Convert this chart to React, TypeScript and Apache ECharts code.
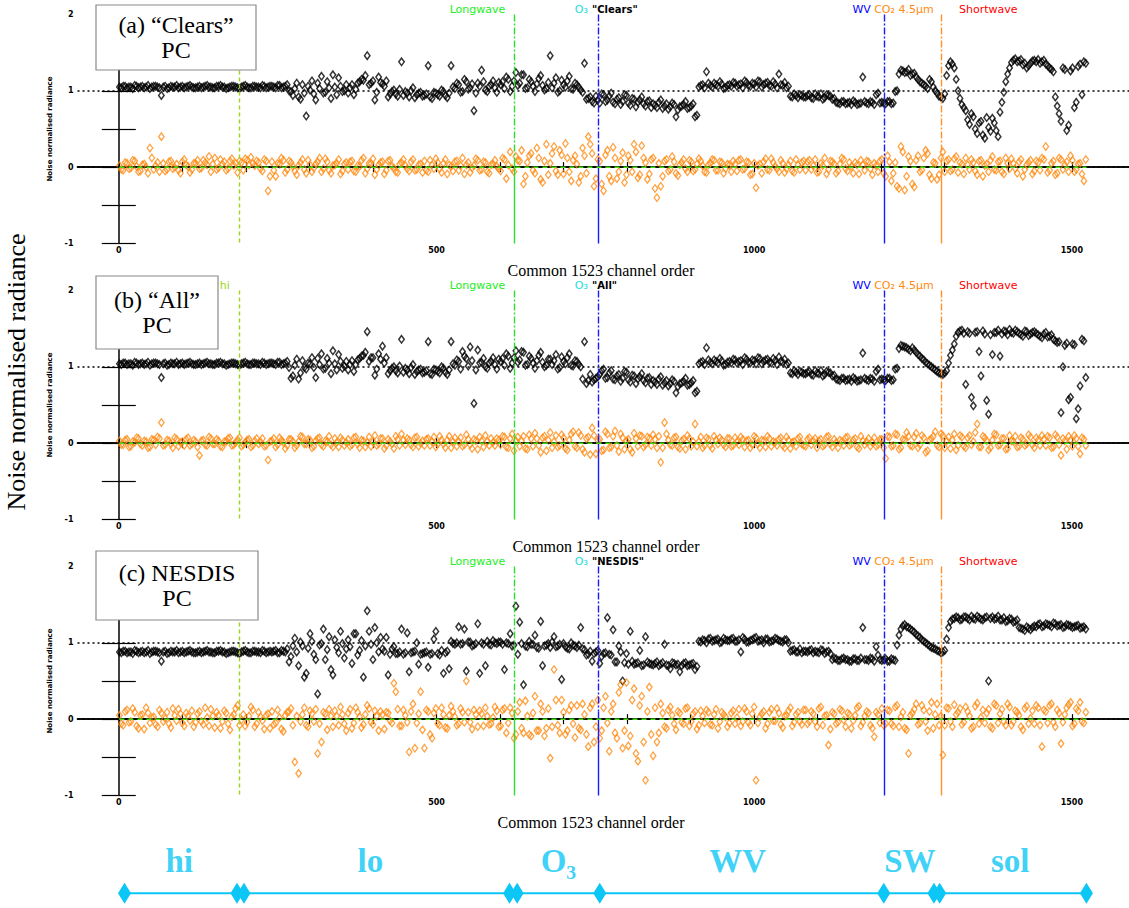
import React, { useEffect, useRef } from 'react';
import * as echarts from 'echarts';

// Page size
const W = 1129;
const H = 908;

// Values are sampled every CHANNEL_STEP channels, in two interleaved sets that
// start at channel 1 and channel 4 respectively.
const CHANNEL_STEP = 6;
const FIRST_CHANNEL = 1;
const LAST_CHANNEL = 1523;

// Noise normalised radiance (hundredths): PC reconstruction (black) and residual (orange)
// ---- (a) "Clears" ----
const clearsPC1 = [
  105,106,104,105,107,104,106,105,103,106,105,94,106,104,105,107,105,104,106,105,
  104,106,105,107,105,104,106,105,103,105,106,104,105,107,104,106,105,104,106,105,
  106,104,107,105,108,99,103,92,108,67,101,96,110,119,98,104,121,95,106,100,
  97,108,102,112,114,146,110,88,118,109,113,96,101,93,138,99,92,104,95,98,
  94,133,90,97,93,99,91,133,103,108,99,112,104,74,110,127,101,106,113,98,
  108,103,115,106,124,110,121,104,112,99,116,107,103,146,110,98,114,105,119,102,
  108,101,136,90,86,93,84,95,88,97,83,91,86,94,81,89,85,92,80,87,
  83,78,88,80,76,84,66,79,82,77,80,66,105,108,125,107,110,106,109,104,
  108,111,106,109,113,107,110,105,112,108,111,106,109,122,107,104,93,96,91,94,
  92,95,90,93,96,91,94,89,85,83,86,84,82,85,83,118,84,86,82,97,
  85,83,86,84,100,127,124,128,122,118,112,108,103,112,100,93,90,120,138,130,
  100,82,74,56,66,44,60,38,52,64,48,72,98,122,137,142,139,134,130,136,
  140,141,138,135,130,125,80,60,128,55,130,85,135,138,
];
const clearsPC4 = [
  104,106,105,103,106,105,104,107,105,106,104,105,103,106,105,104,106,105,107,104,
  105,104,106,105,104,106,107,105,104,106,105,103,106,105,104,106,105,107,104,106,
  105,107,104,106,100,94,110,89,97,106,113,88,103,97,112,90,105,117,99,108,
  104,95,110,115,120,108,113,98,111,106,92,99,96,102,94,97,100,91,97,93,
  96,92,98,95,101,94,97,105,110,98,115,102,109,97,106,112,99,108,104,111,
  112,118,99,113,107,121,103,115,106,109,120,101,111,104,117,100,108,113,103,110,
  105,98,89,92,84,88,96,86,93,85,89,82,95,84,90,79,88,83,86,78,
  81,85,77,83,79,82,75,80,86,78,83,68,107,104,110,105,108,112,103,107,
  106,110,108,104,111,106,109,113,105,110,107,112,104,108,111,106,92,94,95,92,
  94,91,96,92,89,95,93,90,84,86,83,85,87,82,84,86,83,85,95,84,
  84,86,83,99,122,126,125,120,123,115,110,106,115,105,97,92,96,133,135,115,
  90,78,62,70,50,58,42,65,47,58,40,85,112,130,140,138,141,136,133,139,
  138,136,140,133,128,92,70,130,48,126,78,132,95,136,
];
const clearsResid1 = [
  2,-4,5,-1,8,-6,3,0,25,-3,6,40,-5,7,-2,4,-8,10,1,-3,
  5,-2,9,3,-6,12,-1,4,-4,8,2,-7,6,11,3,5,8,-2,10,-31,
  7,-12,4,9,-3,6,-5,2,10,-8,3,-1,7,-6,11,-4,2,5,-9,4,
  -3,8,-6,1,12,-2,5,-10,3,7,-4,9,-1,-7,6,2,-5,10,-3,4,
  8,-6,3,11,-2,5,-9,1,7,-4,12,3,-7,2,9,-3,6,-8,4,1,
  -5,10,3,-2,14,8,-22,6,18,-8,12,-20,30,5,27,-10,16,31,-6,9,
  4,-12,15,40,18,-15,8,-31,22,-18,12,-6,19,-10,9,30,-14,28,6,-9,
  12,-40,-25,8,-5,14,-8,3,10,-6,7,-3,11,2,-7,5,9,-4,6,-2,
  3,8,-5,10,-2,6,-9,-27,4,7,-3,11,1,-6,5,-2,8,-7,3,6,
  -4,9,2,-7,5,12,-3,7,-8,4,10,-5,1,6,-9,3,8,-2,5,-6,
  10,-12,7,-8,-25,27,-30,14,-22,9,-6,12,18,-15,5,-10,20,8,-5,11,
  -7,4,12,-3,6,-10,9,2,-6,14,-4,8,-9,5,11,-2,7,-12,3,9,
  -5,6,12,27,-4,8,-8,10,3,-6,9,-3,5,-18,
];
const clearsResid4 = [
  -3,6,-2,9,1,-5,4,-8,12,2,-6,5,-3,8,0,-4,7,3,-7,5,
  9,-1,6,14,4,-3,10,7,-2,11,5,8,-4,9,13,2,6,-5,8,-12,
  -4,5,12,-7,8,1,-10,6,-3,9,-6,4,12,-2,7,-8,3,10,-5,6,
  7,-5,2,9,-8,5,11,-3,6,-9,8,1,-6,4,10,-2,7,-4,3,-7,
  -4,9,-2,6,-7,10,3,-5,8,2,-9,6,-1,11,-4,7,-6,3,9,-2,
  12,-15,20,-6,9,22,-12,15,-4,25,-16,8,-10,18,-5,22,-9,12,-18,15,
  -20,25,-8,30,-25,10,-22,16,-12,26,-15,8,-20,15,-6,20,-10,12,-16,10,
  -28,5,-12,10,-3,7,-11,6,-2,9,-5,4,8,-6,3,10,-4,7,-8,4,
  -6,4,9,-3,7,-10,5,2,-8,11,-4,6,-2,9,-7,3,-5,10,-3,8,
  7,-3,10,-6,2,-9,8,4,-5,12,-2,6,-8,3,9,-4,7,-10,2,8,
  -8,15,-18,6,-28,20,-12,8,-26,15,-4,22,-10,6,-16,12,-6,10,-3,14,
  6,-9,3,10,-5,8,-12,4,9,-3,7,-6,12,-2,5,-8,10,-3,6,-9,
  8,-4,10,-7,5,-10,12,-3,7,15,-6,4,-9,10,
];

// ---- (b) "All" ----
const allPC1 = [
  104,105,103,104,106,103,105,104,102,105,104,86,105,103,104,106,104,103,105,104,
  103,105,104,106,104,103,105,104,102,104,105,103,104,106,103,105,104,103,105,104,
  105,103,106,104,107,85,102,84,108,97,104,99,111,117,98,105,121,96,107,101,
  96,108,103,111,115,146,112,89,117,127,112,95,100,92,136,98,91,103,94,97,
  93,133,90,96,92,98,90,133,102,107,120,111,126,52,122,106,100,105,112,97,
  107,102,114,105,121,109,119,103,111,98,115,106,102,110,108,97,113,104,117,101,
  107,100,133,82,80,85,90,97,86,95,83,90,85,93,80,88,84,91,79,86,
  82,77,87,79,75,83,66,78,81,76,79,66,104,107,125,106,109,105,108,103,
  107,110,105,108,112,106,109,104,111,107,110,105,108,113,106,103,92,95,90,93,
  91,94,89,92,95,90,93,88,84,82,85,83,81,84,82,118,83,85,81,97,
  84,82,85,83,98,128,126,123,125,119,114,109,104,100,96,92,90,95,115,130,
  145,148,77,144,49,146,88,143,38,116,145,114,147,142,145,148,144,140,146,143,
  146,142,138,145,140,136,132,40,128,57,130,32,75,134,
];
const allPC4 = [
  103,105,104,102,105,104,103,106,104,105,103,104,102,105,104,103,105,104,106,103,
  104,103,105,104,103,105,106,104,103,105,104,102,105,104,103,105,104,106,103,105,
  104,106,103,105,99,88,110,92,99,105,112,86,103,97,111,91,104,116,98,107,
  103,94,109,114,119,107,112,97,110,105,91,98,95,101,93,96,99,90,96,92,
  95,91,97,94,100,93,96,104,109,97,114,101,108,96,105,111,98,107,103,110,
  111,117,98,112,106,120,102,114,105,108,119,100,110,103,116,99,107,112,102,108,
  103,84,78,90,83,87,95,85,92,84,88,81,94,83,89,78,87,82,85,77,
  80,84,76,82,78,81,74,79,85,77,82,68,106,103,109,104,107,111,102,106,
  105,109,107,103,110,105,108,112,104,109,106,111,103,107,110,105,91,93,94,91,
  93,90,95,91,88,94,92,89,83,85,82,84,86,81,83,85,82,84,94,83,
  83,85,82,97,124,127,125,121,122,116,111,106,102,98,94,91,92,105,122,140,
  147,144,146,60,145,120,147,56,142,145,148,143,146,149,144,146,142,147,141,145,
  144,140,143,139,142,134,133,100,131,60,129,45,136,86,
];
const allResid1 = [
  3,-2,5,-4,1,6,-3,2,-5,4,8,27,-2,3,-6,5,1,-3,7,-1,
  2,-16,4,-3,6,-1,3,-5,2,7,-2,4,-4,1,5,-3,6,2,-4,-22,
  3,-5,7,1,-3,5,-6,2,8,-1,4,-4,6,-2,3,9,-5,1,7,-3,
  5,-2,8,-6,3,1,-4,10,-1,6,-3,2,-7,5,12,-2,4,-5,8,0,
  -3,6,2,-5,9,-1,4,-6,7,2,-4,11,-2,5,-8,3,10,-3,1,6,
  -2,8,-6,12,3,-4,9,-8,6,13,-3,7,-10,14,2,-5,11,-7,4,15,
  -6,10,-12,8,20,-14,5,-9,12,-5,16,-11,7,3,-8,13,-4,9,-2,6,
  11,-6,-25,27,4,-3,8,-7,5,10,-4,25,2,-6,7,-3,9,-1,4,-5,
  6,-3,2,8,-5,4,-2,7,-6,3,9,-4,1,5,-3,8,-7,2,6,-1,
  -4,7,3,-6,5,-2,9,-5,1,4,-3,8,-1,6,-7,3,2,-4,7,-2,
  5,-20,8,-3,11,-6,4,9,-4,13,-2,7,-10,6,15,-5,10,3,-7,12,
  -3,8,-6,10,2,25,-5,7,-9,4,11,-2,6,-7,3,9,-4,5,-1,8,
  -6,4,10,-3,7,-5,8,-16,3,9,-4,6,-14,5,
];
const allResid4 = [
  -2,4,-5,2,7,-1,3,-6,5,-2,6,-3,4,-1,7,-4,2,5,-3,4,
  -5,3,-2,8,-1,5,-4,2,6,-3,1,7,-2,4,-5,3,-1,6,-3,2,
  6,-2,4,-7,5,2,-3,9,-1,5,-6,3,7,-4,2,-2,6,-5,4,1,
  -4,7,-1,4,-5,8,2,-3,6,-7,5,-1,9,-3,4,6,-2,7,-4,3,
  5,-3,8,-1,4,-6,9,2,-4,7,-2,5,-7,3,8,-5,2,6,-3,4,
  9,-5,6,-10,8,3,-7,11,-4,6,-12,9,4,-6,10,-3,7,-9,12,-4,
  14,-8,6,-15,10,4,-10,15,-6,9,-3,12,-8,5,-12,6,10,-5,8,-3,
  5,9,-6,12,-2,7,-5,3,-8,6,2,-4,8,-3,5,-7,4,7,-2,6,
  -4,7,-2,5,3,-6,9,-1,4,-5,6,2,-3,7,-6,4,1,-4,8,-3,
  5,-2,6,3,-4,8,-1,5,-6,2,7,-3,4,-5,9,-2,6,1,-4,5,
  -6,9,-4,12,-8,5,14,-3,8,-6,10,-12,4,9,-3,12,-6,8,4,-9,
  10,-4,7,-2,14,-5,9,3,-6,12,-3,6,-8,10,2,-5,7,-3,11,-2,
  7,-3,5,9,-6,11,-2,6,-8,4,10,-4,7,-3,
];

// ---- (c) NESDIS ----
const nesdisPC1 = [
  88,89,87,88,90,87,89,88,86,89,88,76,89,87,88,90,88,87,89,88,
  87,89,88,90,88,87,89,88,86,88,89,87,88,90,87,89,88,87,89,88,
  88,90,87,89,92,82,106,70,96,60,112,85,33,99,78,108,58,94,115,80,
  104,73,112,90,55,142,98,120,88,92,107,85,95,86,118,87,62,88,100,85,
  87,68,86,115,84,60,89,102,98,121,99,63,101,97,125,100,70,98,103,99,
  101,65,99,96,148,127,45,95,98,110,93,70,97,94,108,96,52,95,92,97,
  94,120,91,85,76,88,73,86,133,84,75,96,50,86,115,72,74,70,108,73,
  71,75,72,98,70,74,71,62,73,70,72,65,102,104,100,106,103,105,101,104,
  103,106,102,88,105,101,104,107,103,100,105,102,106,103,101,104,89,91,88,87,
  89,90,87,88,91,86,89,78,79,77,80,78,76,79,77,120,78,80,76,84,
  77,79,76,78,97,118,124,120,116,111,107,102,98,94,92,89,88,105,128,132,
  133,131,134,130,132,135,131,133,50,134,132,130,133,129,131,128,120,118,121,117,
  122,124,121,125,123,126,122,124,121,123,120,122,119,121,
];
const nesdisPC4 = [
  87,89,88,86,89,88,87,90,88,89,87,88,86,89,88,87,89,88,90,87,
  88,87,89,88,87,89,90,88,87,89,88,86,89,88,87,89,88,90,87,89,
  89,87,90,88,75,96,88,101,55,93,102,78,97,118,91,65,104,87,99,92,
  95,112,84,103,96,115,78,100,107,89,58,92,86,88,85,113,87,89,72,86,
  88,85,105,86,90,87,66,99,100,98,118,101,96,99,60,98,102,97,100,101,
  98,100,112,97,85,99,96,102,98,94,128,96,99,101,95,98,99,93,100,96,
  97,92,84,89,86,90,82,87,85,117,75,88,74,72,76,73,90,71,75,72,
  73,70,74,71,66,73,72,70,74,71,73,69,101,103,105,102,104,100,106,103,
  105,102,104,107,101,103,106,102,104,105,101,103,105,102,104,100,90,88,92,89,
  88,91,89,87,90,88,86,80,77,79,78,76,79,77,80,78,77,79,95,78,
  78,76,79,77,110,122,121,118,114,109,104,100,96,93,90,87,90,120,131,134,
  130,134,132,135,131,133,130,134,132,131,135,130,128,132,127,130,119,116,119,120,
  121,125,122,124,121,125,123,120,124,122,121,123,120,118,
];
const nesdisResid1 = [
  5,-8,12,-3,9,-12,6,15,-5,3,-10,8,1,-6,14,-2,7,-9,4,11,
  -4,10,-7,2,13,-11,5,-3,8,-14,6,18,-1,-9,4,12,-6,3,-13,7,
  10,-5,2,-16,9,14,-56,-71,6,-8,11,-3,-45,-30,7,13,-10,4,16,-6,
  8,-12,15,3,-7,18,-4,11,-15,6,9,-2,47,13,-9,5,-43,20,-5,36,
  -38,10,-25,14,-8,6,-12,17,3,-6,9,50,-4,12,-10,7,15,-7,2,11,
  -9,14,-5,8,-20,22,-18,4,-22,30,-15,10,-12,-51,65,-8,25,-20,12,-6,
  18,-14,6,-36,20,-10,-25,15,-5,10,-18,35,-38,48,-22,40,-55,30,-80,42,
  -48,-30,20,-10,12,5,-14,8,-6,15,-3,10,-8,4,12,-7,6,-12,9,3,
  -5,11,2,-9,14,-4,7,-80,3,10,-6,13,-2,8,-11,5,15,-4,9,-7,
  12,-3,7,-10,16,4,-34,9,-6,13,-1,8,-12,5,17,-4,10,-8,-23,6,
  14,-6,11,-9,18,3,-12,-45,8,20,-5,12,-15,22,6,-8,-47,15,-3,19,
  9,-7,16,4,-10,21,2,-5,13,-12,18,7,-3,20,-8,11,5,-14,17,1,
  -6,15,-36,10,18,-4,12,-32,6,19,-9,14,22,-5,
];
const nesdisResid4 = [
  -6,10,-4,14,-9,5,-13,8,2,-7,12,-3,9,-11,5,13,-5,8,-2,-10,
  7,-3,15,-9,4,9,-12,11,-6,3,14,-8,6,-4,16,-10,9,-2,5,-12,
  -7,12,-13,5,10,-8,4,-3,15,-10,7,13,-6,9,-14,4,11,-8,6,-15,
  13,-5,9,-11,6,14,-7,4,10,-13,8,-5,36,-9,12,-4,10,-38,7,-14,
  12,-20,8,-6,15,-11,5,10,-8,14,-4,9,-13,6,11,-9,4,-6,16,-10,
  12,-18,15,-25,10,-12,24,-20,8,-15,20,-22,14,-10,25,-18,9,-15,18,-24,
  -12,20,-20,15,-30,25,-15,30,-42,20,-25,45,-15,-35,25,-45,18,-30,10,-20,
  15,-18,8,-12,16,-6,10,-4,14,-9,7,-13,11,-5,9,-8,13,-3,6,-10,
  8,-6,13,-3,10,-8,16,-5,7,-12,9,-2,14,-7,4,11,-9,6,-3,12,
  -6,10,-3,14,-8,5,-13,7,-4,11,-10,6,-2,15,-9,4,8,-12,9,-5,
  -8,12,-6,16,-10,9,-14,5,13,-7,18,-3,10,-12,20,4,-8,14,-10,6,
  14,-4,10,-12,17,-6,12,8,-10,20,-5,13,-8,16,-3,9,-10,14,-6,11,
  18,-8,12,-5,20,-10,8,-4,15,22,-6,11,-3,9,
];

// Axis ticks
const xMajorTicks = [0, 500, 1000, 1500];
const xMinorTicks = [0, 100, 200, 300, 400, 500, 600, 700, 800, 900, 1000, 1100, 1200, 1300, 1400, 1500];

// Spectral region dividers (channel numbers)
const dividerChannels = [190, 623, 755, 1204, 1294];

// Band bar below the panels
const bandEdges = [9, 186, 197, 615, 627, 757, 1204, 1283, 1292, 1523];
const bandNames = ['hi', 'lo', 'O₃', 'WV', 'SW', 'sol'];
const bandCentres = [95, 396, 692, 974, 1245, 1403];

// Panel annotations
const panelTags = ['(a) “Clears”\nPC', '(b) “All”\nPC', '(c) NESDIS\nPC'];
const panelKeys = ['"Clears"', '"All"', '"NESDIS"'];
const regionLabels = ['Longwave', 'O₃', 'WV', 'CO₂ 4.5μm', 'Shortwave'];
const regionLabelChannels = [518, 714, 1149, 1183, 1316];
const keyLabelChannel = 741;
const hiLabelChannel = 158;

// Layout
const X_MIN = -65;
const X_MAX = 1590;
const GRID_LEFT = 77.5;
const GRID_RIGHT = -5;
const PLOT_W = W - GRID_LEFT - GRID_RIGHT;
const PANEL_TOPS = [14.5, 290.5, 566.5];
const PANEL_H = 229;
const chX = (ch: number) => GRID_LEFT + ((ch - X_MIN) * PLOT_W) / (X_MAX - X_MIN);

const ORANGE = '#ff8a10';
const ZERO_GREEN = '#44dd11';
const CYAN = '#0cc6f5';
const HI_GREEN = '#9bd320';
const DIVIDER_COLORS = [HI_GREEN, '#2ee02e', '#1a1aff', '#1a1aff', '#ff9326'];
const REGION_COLORS = ['#22ee22', '#22dddd', '#0000ff', '#ff8a10', '#ff0000'];

// Merge the two interleaved sample sets into [channel, value] pairs
const toPoints = (set1: number[], set4: number[]) => [
  ...set1.map((v, i) => [FIRST_CHANNEL + i * CHANNEL_STEP, v / 100]),
  ...set4.map((v, i) => [FIRST_CHANNEL + 3 + i * CHANNEL_STEP, v / 100]),
];

const panelData = [
  { pc: toPoints(clearsPC1, clearsPC4), resid: toPoints(clearsResid1, clearsResid4) },
  { pc: toPoints(allPC1, allPC4), resid: toPoints(allResid1, allResid4) },
  { pc: toPoints(nesdisPC1, nesdisPC4), resid: toPoints(nesdisResid1, nesdisResid4) },
];

const boxes = [
  { x: 96, y: 5, w: 160, h: 65 },
  { x: 96, y: 276, w: 122, h: 73 },
  { x: 96, y: 551, w: 162, h: 69 },
];
const titleCentres = [601, 606, 591];

function dividerLines() {
  const lines: any[] = [];
  dividerChannels.forEach((ch, k) => {
    const color = DIVIDER_COLORS[k];
    if (k === 0) {
      lines.push([
        { coord: [ch, 2], lineStyle: { color, type: [4, 3], width: 1.4 } },
        { coord: [ch, -1] },
      ]);
    } else {
      lines.push([
        { coord: [ch, 2], lineStyle: { color, type: [7, 2, 2, 2], width: 1.4 } },
        { coord: [ch, 0.1] },
      ]);
      lines.push([
        { coord: [ch, 0.1], lineStyle: { color, type: 'solid', width: 1.4 } },
        { coord: [ch, -1] },
      ]);
    }
  });
  return lines;
}

const smallText = (text: string, x: number, y: number, fill: string, font: string) => ({
  type: 'text', x, y, z: 10,
  style: {
    text, fill, font,
    align: 'left', verticalAlign: 'middle', textAlign: 'left', textVerticalAlign: 'middle',
  },
});

function buildOption() {
  const grid: any[] = [];
  const xAxis: any[] = [];
  const yAxis: any[] = [];
  const series: any[] = [];
  const graphic: any[] = [];

  const axisLine = { show: true, lineStyle: { color: '#000', width: 1.5 } };
  const tickFont = { fontSize: 8, color: '#000', fontFamily: 'DejaVu Sans', fontWeight: 'bold' };
  const markerSize = [5.5, 7.5];

  PANEL_TOPS.forEach((top, p) => {
    grid.push({ left: GRID_LEFT, right: GRID_RIGHT, top, height: PANEL_H });
    xAxis.push({
      type: 'value', gridIndex: p, position: 'bottom', min: X_MIN, max: X_MAX,
      axisLine,
      axisTick: { show: true, inside: true, length: 5, customValues: xMinorTicks, lineStyle: { color: '#000', width: 1.2 } },
      axisLabel: { show: true, customValues: xMajorTicks, margin: 3, formatter: (v: number) => String(v), ...tickFont },
      splitLine: { show: false },
    });
    xAxis.push({
      type: 'value', gridIndex: p, position: 'top', min: X_MIN, max: X_MAX,
      axisLine,
      axisTick: { show: true, inside: true, length: 5, customValues: xMinorTicks, lineStyle: { color: '#000', width: 1.2 } },
      axisLabel: { show: false },
      splitLine: { show: false },
    });
    yAxis.push({
      type: 'value', gridIndex: p, position: 'left', min: -1, max: 2, interval: 0.5,
      axisLine,
      axisTick: { show: true, inside: true, length: 17, lineStyle: { color: '#000', width: 1.2 } },
      axisLabel: {
        margin: 4, ...tickFont,
        formatter: (v: number) => (Math.abs(v - Math.round(v)) < 1e-9 ? String(Math.round(v)) : ''),
      },
      splitLine: { show: false },
      name: 'Noise normalised radiance',
      nameLocation: 'middle',
      nameRotate: 90,
      nameGap: 24,
      nameTextStyle: { fontSize: 7, color: '#000', fontFamily: 'DejaVu Sans', fontWeight: 'bold' },
    });
    yAxis.push({
      type: 'value', gridIndex: p, position: 'right', min: -1, max: 2, interval: 0.5,
      axisLine: { show: false },
      axisTick: { show: true, inside: true, length: 17, lineStyle: { color: '#000', width: 1.2 } },
      axisLabel: { show: false },
      splitLine: { show: false },
    });

    const xi = 2 * p;
    const yi = 2 * p;
    const { pc, resid } = panelData[p];

    series.push({
      type: 'scatter', xAxisIndex: xi, yAxisIndex: yi,
      data: pc,
      symbol: 'diamond', symbolSize: markerSize,
      itemStyle: { color: 'rgba(0,0,0,0)', borderColor: '#000', borderWidth: 1.5 },
      markLine: {
        silent: true, symbol: ['none', 'none'], label: { show: false },
        data: [
          { yAxis: 1, lineStyle: { color: '#000', type: [2, 3], width: 1.5 } },
          { yAxis: 0, lineStyle: { color: '#000', type: [2, 3], width: 1.5 } },
          ...dividerLines(),
        ],
      },
      z: 3,
    });
    series.push({
      type: 'scatter', xAxisIndex: xi, yAxisIndex: yi,
      data: resid,
      symbol: 'diamond', symbolSize: markerSize,
      itemStyle: { color: 'rgba(0,0,0,0)', borderColor: ORANGE, borderWidth: 1.3 },
      z: 4,
    });
    series.push({
      type: 'line', xAxisIndex: xi, yAxisIndex: yi,
      data: [[FIRST_CHANNEL, 0], [LAST_CHANNEL, 0]],
      symbol: 'none',
      lineStyle: { color: ZERO_GREEN, type: [5, 4], width: 1.5 },
      z: 5,
    });

    // Region names along the top of the panel
    regionLabels.forEach((t, k) => {
      graphic.push(smallText(t, chX(regionLabelChannels[k]), top - 5.5, REGION_COLORS[k], '11px "DejaVu Sans"'));
    });
    graphic.push(smallText(panelKeys[p], chX(keyLabelChannel), top - 5.5, '#000', 'bold 10px "DejaVu Sans"'));
    if (p === 1) {
      graphic.push(smallText('hi', chX(hiLabelChannel), top - 5.5, HI_GREEN, '11px "DejaVu Sans"'));
    }

    // Panel tag box
    const b = boxes[p];
    graphic.push({
      type: 'rect', z: 20,
      shape: { x: b.x, y: b.y, width: b.w, height: b.h },
      style: { fill: '#fff', stroke: '#8a8a8a', lineWidth: 1.2 },
    });
    graphic.push({
      type: 'text', x: b.x + b.w / 2, y: b.y + b.h / 2, z: 21,
      style: {
        text: panelTags[p], fill: '#000', font: '24px "Liberation Serif"', lineHeight: 25,
        align: 'center', verticalAlign: 'middle', textAlign: 'center', textVerticalAlign: 'middle',
      },
    });

    // x-axis title
    graphic.push({
      type: 'text', x: titleCentres[p], y: top + PANEL_H + 27, z: 10,
      style: {
        text: 'Common 1523 channel order', fill: '#000', font: '16px "Liberation Serif"',
        align: 'center', verticalAlign: 'middle', textAlign: 'center', textVerticalAlign: 'middle',
      },
    });
  });

  // Shared y label
  graphic.push({
    type: 'text', x: 16, y: 372, rotation: Math.PI / 2, z: 10,
    style: {
      text: 'Noise normalised radiance', fill: '#000', font: '26px "Liberation Serif"',
      align: 'center', verticalAlign: 'middle', textAlign: 'center', textVerticalAlign: 'middle',
    },
  });

  // Band bar
  grid.push({ left: GRID_LEFT, right: GRID_RIGHT, top: 830, height: 80 });
  xAxis.push({ type: 'value', gridIndex: 3, min: X_MIN, max: X_MAX, show: false });
  yAxis.push({ type: 'value', gridIndex: 3, min: 0, max: 1, show: false });
  series.push({
    type: 'line', xAxisIndex: 6, yAxisIndex: 6,
    data: bandEdges.map((ch) => [ch, 0.19]),
    symbol: 'diamond', symbolSize: [13, 21], showAllSymbol: true,
    itemStyle: { color: CYAN },
    lineStyle: { color: CYAN, width: 2 },
  });
  series.push({
    type: 'scatter', xAxisIndex: 6, yAxisIndex: 6,
    data: bandCentres.map((ch) => [ch, 0.6]),
    symbol: 'circle', symbolSize: 1,
    itemStyle: { color: 'rgba(0,0,0,0)' },
    label: {
      show: true, position: 'inside',
      formatter: (prm: any) => bandNames[prm.dataIndex],
      color: CYAN, fontSize: 33, fontWeight: 'bold', fontFamily: 'Liberation Serif',
    },
  });

  return {
    animation: false,
    backgroundColor: '#fff',
    grid, xAxis, yAxis, series, graphic,
  };
}

export default function App() {
  const ref = useRef<HTMLDivElement>(null);
  useEffect(() => {
    if (!ref.current) return;
    const chart = echarts.init(ref.current, undefined, { renderer: 'svg' });
    chart.setOption(buildOption() as any);
    return () => chart.dispose();
  }, []);
  return (
    <div
      ref={ref}
      style={{ position: 'fixed', left: 0, top: 0, width: W, height: H, background: '#fff' }}
    />
  );
}
